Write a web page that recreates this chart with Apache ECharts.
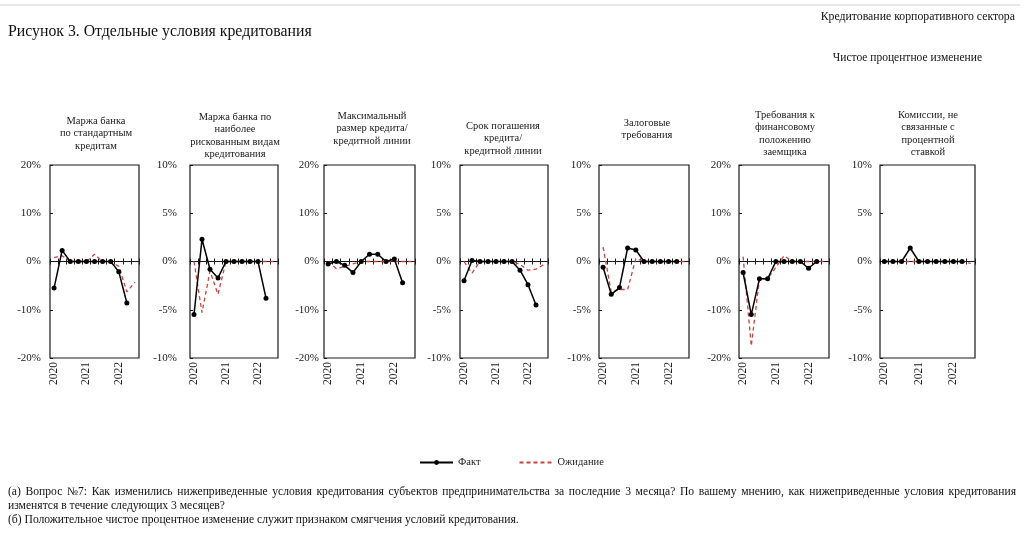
<!DOCTYPE html>
<html><head><meta charset="utf-8">
<script src="https://cdn.jsdelivr.net/npm/echarts@6/dist/echarts.min.js"></script>
<style>html,body{margin:0;padding:0;background:#fff}#c{width:1024px;height:533px}</style>
</head><body><div id="c"></div>
<script>
// ---------- DATA ----------
const categories = ['2020Q1','2020Q2','2020Q3','2020Q4','2021Q1','2021Q2','2021Q3','2021Q4','2022Q1','2022Q2','2022Q3'];
const xTickLabels = ['2020','','','','2021','','','','2022','',''];
const panelTitles = [
  'Маржа банка\nпо стандартным\nкредитам',
  'Маржа банка по\nнаиболее\nрискованным видам\nкредитования',
  'Максимальный\nразмер кредита/\nкредитной линии',
  'Срок погашения\nкредита/\nкредитной линии',
  'Залоговые\nтребования',
  'Требования к\nфинансовому\nположению\nзаемщика',
  'Комиссии, не\nсвязанные с\nпроцентной\nставкой'
];
const yLimits = [20, 10, 20, 10, 10, 20, 10];
const yIntervals = [10, 5, 10, 5, 5, 10, 5];

const fact1 = [-5.5, 2.3, 0, 0, 0, 0, 0, 0, -2.1, -8.6];
const exp1  = [0.8, 1.2, 0, 0, 0, 1.5, 0, 0, -1.0, -6.3, -4.3];
const fact2 = [-5.5, 2.3, -0.8, -1.7, 0, 0, 0, 0, 0, -3.8];
const exp2  = [0, -5.3, -1.0, -3.4, 0, 0, 0, 0, 0, 0, 0];
const fact3 = [-0.5, 0, -0.8, -2.3, 0, 1.5, 1.5, 0, 0.5, -4.4];
const exp3  = [0, -1.5, -1.0, -0.5, 0, 0, 0, 0, 0, 0, 0];
const fact4 = [-2.0, 0.1, 0, 0, 0, 0, 0, -0.9, -2.4, -4.5];
const exp4  = [0, -1.2, 0, 0, 0, 0, 0, -0.3, -0.9, -0.8, -0.3];
const fact5 = [-0.6, -3.4, -2.7, 1.4, 1.2, 0, 0, 0, 0, 0];
const exp5  = [1.5, -3.2, -2.9, -2.9, 0.3, 0, 0, 0, 0, 0, 0];
const fact6 = [-2.3, -11.0, -3.6, -3.6, 0, 0, 0, 0, -1.4, 0];
const exp6  = [1.0, -17.5, -3.6, -3.6, -1.2, 1.2, 0, 0, 0, 0, 0];
const fact7 = [0, 0, 0, 1.4, 0, 0, 0, 0, 0, 0];
const exp7  = [0, 0, 0, 0, 0, 0, 0, 0, 0, 0, -0.2];

const facts = [fact1, fact2, fact3, fact4, fact5, fact6, fact7];
const exps  = [exp1, exp2, exp3, exp4, exp5, exp6, exp7];

const factName = 'Факт';
const expName = 'Ожидание';
const mainTitle = 'Рисунок 3. Отдельные условия кредитования';
const topRight = 'Кредитование корпоративного сектора';
const unitNote = 'Чистое процентное изменение';
const note1 = '(а) Вопрос №7: Как изменились нижеприведенные условия кредитования субъектов предпринимательства за последние 3 месяца? По вашему мнению, как нижеприведенные условия кредитования';
const note2 = 'изменятся в течение следующих 3 месяцев?';
const note3 = '(б) Положительное чистое процентное изменение служит признаком смягчения условий кредитования.';

// ---------- LAYOUT ----------
const FONT = '"Liberation Serif","Times New Roman",serif';
const boxes = [[50,89],[190,88],[324,91],[460,88],[599,90],[739,90],[880,95]];
const labelMargins = [9, 13, 5, 9, 8, 8, 8];
const titleX = [96, 235, 372, 503, 647, 785, 928];
const titleY = [121, 117, 116, 126, 123, 115, 115];
const TOP = 165, H = 193;
const RED = '#c8453f';

const grid = [], xAxis = [], yAxis = [], series = [], graphic = [];

for (let i = 0; i < 7; i++) {
  const b = boxes[i];
  grid.push({left: b[0], top: TOP, width: b[1], height: H, show: true,
    borderColor: '#1a1a1a', borderWidth: 1.2, backgroundColor: 'transparent'});
  yAxis.push({type: 'value', gridIndex: i, min: -yLimits[i], max: yLimits[i], interval: yIntervals[i],
    axisLine: {show: false}, splitLine: {show: false},
    axisTick: {show: true, inside: true, length: 3, lineStyle: {color: '#1a1a1a'}},
    axisLabel: {formatter: '{value}%', fontFamily: FONT, fontSize: 11, color: '#1a1a1a', margin: labelMargins[i]}});
  xAxis.push({type: 'category', gridIndex: i, data: categories, position: 'bottom',
    axisLine: {show: false, onZero: false}, axisTick: {show: false}, splitLine: {show: false},
    axisLabel: {interval: 0, rotate: 90, margin: 4, fontFamily: FONT, fontSize: 11.5, color: '#1a1a1a',
      formatter: (v, idx) => xTickLabels[idx]}});
  xAxis.push({type: 'category', gridIndex: i, data: categories, position: 'bottom',
    axisLine: {show: true, onZero: true, onZeroAxisIndex: i, lineStyle: {color: '#1a1a1a', width: 1}},
    axisTick: {show: true, interval: 0, inside: true, length: 3, lineStyle: {color: '#1a1a1a'}},
    axisLabel: {show: false}, splitLine: {show: false}});
  xAxis.push({type: 'category', gridIndex: i, data: categories, position: 'bottom',
    axisLine: {show: false, onZero: true, onZeroAxisIndex: i},
    axisTick: {show: true, interval: 0, inside: false, length: 3, lineStyle: {color: '#1a1a1a'}},
    axisLabel: {show: false}, splitLine: {show: false}});

  series.push({name: expName, type: 'line', xAxisIndex: 3*i, yAxisIndex: i, data: exps[i],
    symbol: 'none', color: RED, lineStyle: {color: RED, width: 1.3, type: [4, 3]}, z: 3, silent: true});
  series.push({name: factName, type: 'line', xAxisIndex: 3*i, yAxisIndex: i, data: facts[i],
    symbol: 'circle', symbolSize: 5, color: '#000', itemStyle: {color: '#000'},
    lineStyle: {color: '#000', width: 1.5}, z: 4, silent: true});

  graphic.push({type: 'text', x: titleX[i], y: titleY[i] - 6.25, silent: true,
    style: {text: panelTitles[i], font: '10.5px ' + FONT, fill: '#1a1a1a', align: 'center',
      verticalAlign: 'top', lineHeight: 12.5}});
}

graphic.push({type: 'line', shape: {x1: 0, y1: 5, x2: 1020, y2: 5}, style: {stroke: '#cfcfcf', lineWidth: 1}, silent: true});
graphic.push({type: 'text', x: 8, y: 32, style: {text: mainTitle, font: '15.8px ' + FONT, fill: '#111', align: 'left', verticalAlign: 'middle'}});
graphic.push({type: 'text', x: 1015, y: 17, style: {text: topRight, font: '11.8px ' + FONT, fill: '#111', align: 'right', verticalAlign: 'middle'}});
graphic.push({type: 'text', x: 982, y: 58, style: {text: unitNote, font: '11.5px ' + FONT, fill: '#111', align: 'right', verticalAlign: 'middle'}});

const noteFont = '11.6px ' + FONT;
(function () {
  const ctx = document.createElement('canvas').getContext('2d');
  ctx.font = noteFont;
  const words = note1.split(' ');
  const widths = words.map(w => ctx.measureText(w).width);
  const total = widths.reduce((a, c) => a + c, 0);
  const x0 = 8, x1 = 1016;
  const gap = (x1 - x0 - total) / (words.length - 1);
  let x = x0;
  words.forEach((w, k) => {
    graphic.push({type: 'text', x: x, y: 492, style: {text: w, font: noteFont, fill: '#111', align: 'left', verticalAlign: 'middle'}});
    x += widths[k] + gap;
  });
})();
graphic.push({type: 'text', x: 8, y: 505.5, style: {text: note2, font: noteFont, fill: '#111', align: 'left', verticalAlign: 'middle'}});
graphic.push({type: 'text', x: 8, y: 520, style: {text: note3, font: noteFont, fill: '#111', align: 'left', verticalAlign: 'middle'}});

const chart = echarts.init(document.getElementById('c'), null, {renderer: 'canvas'});
chart.setOption({
  animation: false,
  backgroundColor: '#fff',
  grid, xAxis, yAxis, series, graphic,
  legend: {data: [{name: factName}, {name: expName, itemStyle: {opacity: 0}}],
    left: 414, top: 452, itemWidth: 33, itemHeight: 6, itemGap: 38,
    textStyle: {fontFamily: FONT, fontSize: 10.5, color: '#1a1a1a'}, selectedMode: false}
});
</script>
</body></html>
